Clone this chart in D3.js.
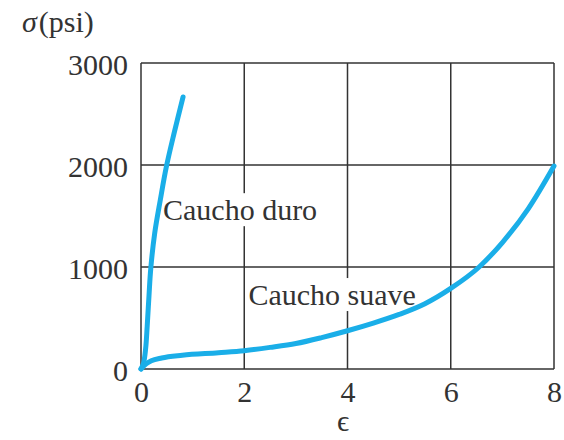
<!DOCTYPE html>
<html>
<head>
<meta charset="utf-8">
<script src="https://cdn.jsdelivr.net/npm/d3@7"></script>
<style>
  html, body { margin: 0; padding: 0; background: #fff; }
  svg { display: block; }
  text { font-family: "Liberation Serif", "Times New Roman", serif; fill: #333; }
</style>
</head>
<body>
<svg id="chart" width="564" height="440"></svg>
<script>
// Stress–strain curves for two rubbers (strain ε vs stress σ in psi)
const hardStrain = [0, 0.05, 0.09, 0.12, 0.155, 0.19, 0.265, 0.375, 0.49, 0.64, 0.815];
const hardStress = [0, 60, 200, 420, 720, 990, 1330, 1660, 1980, 2310, 2667];

const softStrain = [0, 0.1, 0.2, 0.4, 0.8, 1.5, 2, 2.5, 3, 3.5, 4, 4.5, 5, 5.5, 6, 6.55, 7, 7.5, 8];
const softStress = [0, 50, 80, 108, 135, 160, 180, 212, 250, 308, 375, 450, 535, 640, 790, 1000, 1240, 1570, 1990];

const xTicks = [0, 2, 4, 6, 8];
const yTicks = [0, 1000, 2000, 3000];

const labels = [
  { text: "Caucho duro", x: 0.426, y: 1459 },
  { text: "Caucho suave", x: 2.08, y: 627 }
];

const svg = d3.select("#chart");
const plotL = 141, plotR = 554, plotT = 63, plotB = 369;

const x = d3.scaleLinear().domain([0, 8]).range([plotL, plotR]);
const y = d3.scaleLinear().domain([0, 3000]).range([plotB, plotT]);

const ink = "#333";
const blue = "#1aaee8";
const fontSize = 30;

// grid lines (outer ones form the frame)
const grid = svg.append("g").attr("stroke", ink).attr("stroke-width", 1.5);
grid.selectAll("line.v").data(xTicks).join("line").attr("class", "v")
  .attr("x1", d => x(d)).attr("x2", d => x(d))
  .attr("y1", plotT).attr("y2", plotB);
grid.selectAll("line.h").data(yTicks).join("line").attr("class", "h")
  .attr("x1", plotL).attr("x2", plotR)
  .attr("y1", d => y(d)).attr("y2", d => y(d));

// tick labels
const xAxis = svg.append("g").attr("transform", `translate(0,${plotB})`)
  .call(d3.axisBottom(x).tickValues(xTicks).tickFormat(d3.format("d")).tickSize(0).tickPadding(12));
const yAxis = svg.append("g").attr("transform", `translate(${plotL},0)`)
  .call(d3.axisLeft(y).tickValues(yTicks).tickFormat(d3.format("d")).tickSize(0).tickPadding(13));
[xAxis, yAxis].forEach(g => {
  g.select(".domain").remove();
  g.selectAll("text")
    .style("font-family", '"Liberation Serif", "Times New Roman", serif')
    .style("font-size", fontSize + "px")
    .attr("fill", ink);
});
yAxis.selectAll("text").attr("dy", "0.38em");

// curve labels with a white backing
const lab = svg.append("g");
labels.forEach(l => {
  const t = lab.append("text")
    .attr("x", x(l.x)).attr("y", y(l.y))
    .attr("font-size", fontSize)
    .attr("fill", ink)
    .text(l.text);
  const b = t.node().getBBox();
  lab.insert("rect", () => t.node())
    .attr("x", b.x - 2).attr("y", b.y)
    .attr("width", b.width + 4).attr("height", b.height)
    .attr("fill", "#fff");
});

// curves
const hardPts = hardStrain.map((e, i) => [x(e), y(hardStress[i])]);
const softPts = softStrain.map((e, i) => [x(e), y(softStress[i])]);
svg.append("path").attr("d", d3.line().curve(d3.curveCatmullRom.alpha(0.5))(hardPts))
  .attr("fill", "none").attr("stroke", blue).attr("stroke-width", 5).attr("stroke-linecap", "round");
svg.append("path").attr("d", d3.line().curve(d3.curveMonotoneX)(softPts))
  .attr("fill", "none").attr("stroke", blue).attr("stroke-width", 5).attr("stroke-linecap", "round");

// axis titles
const yt = svg.append("text").attr("x", 22).attr("y", 32).attr("font-size", fontSize).attr("fill", ink);
yt.append("tspan").attr("font-style", "italic").text("σ");
yt.append("tspan").attr("dx", 2).text("(psi)");
svg.append("text").attr("x", 343).attr("y", 431).attr("text-anchor", "middle")
  .attr("font-size", fontSize).attr("fill", ink).text("ϵ");
</script>
</body>
</html>
